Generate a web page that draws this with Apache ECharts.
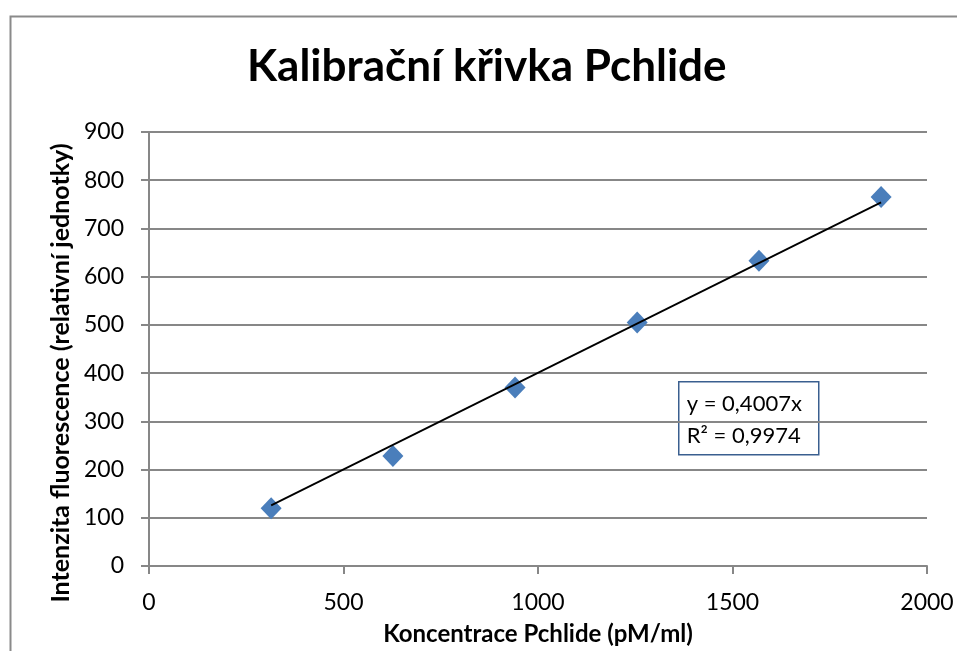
<!DOCTYPE html>
<html>
<head>
<meta charset="utf-8">
<script src="https://cdn.jsdelivr.net/npm/echarts@6/dist/echarts.min.js"></script>
<style>
    * { margin: 0; padding: 0; }
    body { background: #ffffff; }
    #chart { width: 957px; height: 651px; }
</style>
</head>
<body>
<div id="chart"></div>
<script>
    // koncentrace Pchlide (pM/ml)
    const concentration = [314, 627, 941, 1255, 1568, 1882]
    // intenzita fluorescence
    const intensity = [120, 228, 370, 505, 633, 765]
    const slope = 0.4007
    const rSquared = '0,9974'
    const xTicks = [0, 500, 1000, 1500, 2000]
    const yTicks = [0, 100, 200, 300, 400, 500, 600, 700, 800, 900]

    const points = concentration.map((x, i) => [x, intensity[i]])
    const xFirst = Math.min(...concentration)
    const xLast = Math.max(...concentration)
    const trend = [[xFirst, slope * xFirst], [xLast, slope * xLast]]

    const font = 'Lato, "Open Sans", sans-serif'
    const gray = '#878787'

    let chart = echarts.init(document.getElementById('chart'))
    let option = {
        backgroundColor: '#ffffff',
        animation: false,
        title: {
            text: 'Kalibrační křivka Pchlide',
            left: 242,
            top: 40,
            textStyle: {
                fontFamily: font,
                fontSize: 44,
                fontWeight: 'bold',
                color: '#000000'
            }
        },
        grid: {
            left: 149,
            right: 30,
            top: 132,
            bottom: 84
        },
        xAxis: {
            type: 'value',
            min: xTicks[0],
            max: xTicks[xTicks.length - 1],
            interval: 500,
            name: 'Koncentrace Pchlide (pM/ml)',
            nameLocation: 'middle',
            nameGap: 56,
            nameTextStyle: { fontFamily: font, fontSize: 24, fontWeight: 'bold', color: '#000' },
            axisLine: { show: true, lineStyle: { color: gray, width: 2 } },
            axisTick: { show: true, length: 8, inside: false, lineStyle: { color: gray, width: 2 } },
            axisLabel: { fontFamily: font, fontSize: 23, color: '#000', margin: 25, formatter: v => String(v) },
            splitLine: { show: false }
        },
        yAxis: {
            type: 'value',
            min: yTicks[0],
            max: yTicks[yTicks.length - 1],
            interval: 100,
            name: 'Intenzita fluorescence (relativní jednotky)',
            nameLocation: 'middle',
            nameGap: 76,
            nameTextStyle: { fontFamily: font, fontSize: 25, fontWeight: 'bold', color: '#000', padding: [0, 48, 0, 0] },
            axisLine: { show: true, lineStyle: { color: gray, width: 2 } },
            axisTick: { show: true, length: 8, lineStyle: { color: gray, width: 2 } },
            axisLabel: { fontFamily: font, fontSize: 23, color: '#000', margin: 25, formatter: v => String(v) },
            splitLine: { show: true, lineStyle: { color: gray, width: 2 } }
        },
        graphic: [
            {
                type: 'rect',
                left: 8,
                top: 14,
                shape: { width: 1000, height: 700 },
                style: { fill: 'none', stroke: '#8a8a8a', lineWidth: 2 },
                silent: true,
                z: -10
            },
            {
                type: 'group',
                left: 678,
                top: 381,
                children: [
                    {
                        type: 'rect',
                        shape: { width: 140, height: 73 },
                        style: { fill: '#ffffff', stroke: '#3a5f8f', lineWidth: 1.5 }
                    },
                    {
                        type: 'text',
                        left: 8,
                        top: 6,
                        style: {
                            text: 'y = ' + slope.toString().replace('.', ',') + 'x\nR² = ' + rSquared,
                            font: '22px ' + font,
                            fill: '#000',
                            lineHeight: 32
                        }
                    }
                ]
            }
        ],
        series: [
            {
                name: 'Pchlide',
                type: 'scatter',
                data: points,
                symbol: 'diamond',
                symbolSize: [21, 22],
                itemStyle: { color: '#4a7ebb', opacity: 1 },
                z: 2
            },
            {
                name: 'Lineární trend',
                type: 'line',
                data: trend,
                symbol: 'none',
                lineStyle: { color: '#000000', width: 1.8 },
                z: 3
            }
        ]
    }
    chart.setOption(option)
</script>
</body>
</html>
